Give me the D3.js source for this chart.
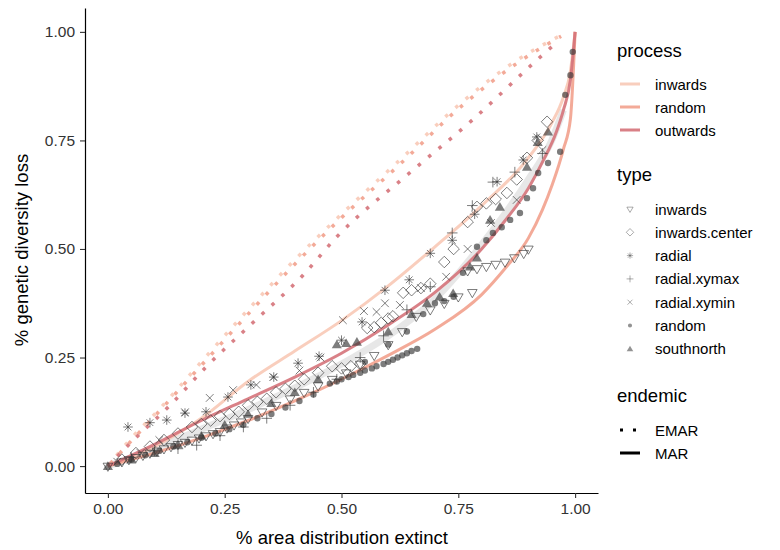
<!DOCTYPE html>
<html>
<head>
<meta charset="utf-8">
<script src="https://cdn.jsdelivr.net/npm/d3@7"></script>
<style>
  body { margin: 0; background: #fff; }
  text { font-family: "Liberation Sans", Arial, sans-serif; }
</style>
</head>
<body>
<div id="chart"></div>
<script>
// process curves (MAR = solid, EMAR = dotted)
const marInwardsX  = [0, 0.1, 0.2, 0.3, 0.4, 0.5, 0.6, 0.7, 0.8, 0.9, 0.95, 0.975, 0.99, 1];
const marInwardsY  = [0, 0.045, 0.11, 0.195, 0.265, 0.335, 0.415, 0.505, 0.6, 0.71, 0.79, 0.85, 0.91, 1];
const marRandomX   = [0, 0.1, 0.2, 0.3, 0.4, 0.5, 0.6, 0.7, 0.8, 0.85, 0.9, 0.93, 0.95, 0.975, 0.99, 1];
const marRandomY   = [0, 0.03, 0.065, 0.105, 0.15, 0.2, 0.255, 0.315, 0.395, 0.455, 0.525, 0.59, 0.645, 0.73, 0.8, 1];
const marOutwardsX = [0, 0.1, 0.2, 0.3, 0.4, 0.5, 0.6, 0.7, 0.8, 0.85, 0.9, 0.93, 0.96, 0.975, 0.99, 1];
const marOutwardsY = [0, 0.05, 0.105, 0.155, 0.205, 0.26, 0.325, 0.4, 0.5, 0.565, 0.64, 0.7, 0.77, 0.82, 0.89, 1];
const smoothX = [0, 0.1, 0.2, 0.3, 0.4, 0.5, 0.6, 0.7, 0.8, 0.9, 0.95, 0.975];
const smoothY = [0, 0.04, 0.085, 0.13, 0.18, 0.235, 0.3, 0.385, 0.51, 0.66, 0.75, 0.82];

const emarInwardsX  = [0, 0.05, 0.105, 0.2, 0.3, 0.4, 0.5, 0.62, 0.76, 0.876, 0.975];
const emarInwardsY  = [0, 0.064, 0.125, 0.24, 0.36, 0.475, 0.58, 0.7, 0.84, 0.935, 0.995];
const emarRandomX   = [0, 0.05, 0.1, 0.2, 0.3, 0.4, 0.5, 0.62, 0.76, 0.876, 0.97];
const emarRandomY   = [0, 0.058, 0.115, 0.232, 0.35, 0.465, 0.572, 0.69, 0.832, 0.928, 0.99];
const emarOutwardsX = [0, 0.05, 0.133, 0.21, 0.31, 0.418, 0.49, 0.64, 0.78, 0.918, 0.96];
const emarOutwardsY = [0, 0.055, 0.14, 0.228, 0.33, 0.44, 0.528, 0.67, 0.797, 0.935, 0.975];

// points per type
const inwardsX = [0, 0.03, 0.045, 0.06, 0.075, 0.09, 0.105, 0.12, 0.135, 0.15, 0.165, 0.18, 0.195, 0.21, 0.225, 0.24, 0.255, 0.27, 0.285, 0.3, 0.33, 0.36, 0.39, 0.42, 0.45, 0.48, 0.51, 0.54, 0.57, 0.6, 0.63, 0.66, 0.69, 0.72, 0.75, 0.78, 0.77, 0.79, 0.81, 0.83, 0.85, 0.87, 0.89, 0.9];
const inwardsY = [0, 0.01, 0.015, 0.02, 0.025, 0.03, 0.035, 0.04, 0.045, 0.05, 0.055, 0.06, 0.065, 0.07, 0.075, 0.08, 0.088, 0.095, 0.102, 0.11, 0.125, 0.14, 0.155, 0.17, 0.185, 0.2, 0.215, 0.235, 0.255, 0.28, 0.31, 0.345, 0.36, 0.375, 0.39, 0.4, 0.45, 0.455, 0.46, 0.465, 0.47, 0.48, 0.49, 0.5];
const centerX = [0.03, 0.06, 0.09, 0.12, 0.15, 0.18, 0.2, 0.22, 0.24, 0.26, 0.28, 0.3, 0.32, 0.34, 0.36, 0.38, 0.4, 0.42, 0.45, 0.48, 0.5, 0.52, 0.54, 0.555, 0.57, 0.585, 0.6, 0.61, 0.632, 0.65, 0.67, 0.69, 0.72, 0.74, 0.77, 0.79, 0.81, 0.83, 0.854, 0.875, 0.897, 0.92, 0.94];
const centerY = [0.015, 0.03, 0.045, 0.06, 0.075, 0.09, 0.097, 0.105, 0.115, 0.12, 0.125, 0.14, 0.148, 0.155, 0.17, 0.178, 0.185, 0.2, 0.215, 0.23, 0.225, 0.23, 0.235, 0.318, 0.32, 0.33, 0.34, 0.345, 0.399, 0.405, 0.41, 0.42, 0.47, 0.5, 0.562, 0.597, 0.605, 0.615, 0.629, 0.66, 0.71, 0.75, 0.793];
const radialX = [0.043, 0.09, 0.126, 0.165, 0.21, 0.257, 0.306, 0.355, 0.407, 0.452, 0.5, 0.544, 0.593, 0.645, 0.69, 0.737, 0.785, 0.833, 0.889, 0.918];
const radialY = [0.09, 0.1, 0.106, 0.122, 0.125, 0.159, 0.187, 0.205, 0.237, 0.253, 0.29, 0.332, 0.405, 0.429, 0.49, 0.52, 0.58, 0.655, 0.705, 0.758];
const xymaxX = [0.05, 0.1, 0.15, 0.19, 0.24, 0.29, 0.34, 0.39, 0.44, 0.49, 0.54, 0.59, 0.64, 0.69, 0.737, 0.78, 0.824, 0.871, 0.93];
const xymaxY = [0.02, 0.035, 0.04, 0.048, 0.07, 0.09, 0.11, 0.14, 0.17, 0.2, 0.25, 0.3, 0.36, 0.413, 0.537, 0.6, 0.654, 0.677, 0.72];
const xyminX = [0.02, 0.07, 0.11, 0.165, 0.218, 0.268, 0.318, 0.354, 0.41, 0.455, 0.503, 0.548, 0.575, 0.593, 0.625, 0.67, 0.724, 0.77, 0.82, 0.875, 0.93];
const xyminY = [0.01, 0.03, 0.06, 0.124, 0.157, 0.175, 0.187, 0.205, 0.22, 0.25, 0.336, 0.357, 0.355, 0.375, 0.371, 0.41, 0.436, 0.5, 0.56, 0.613, 0.728];
const randomX = [0.02, 0.05, 0.08, 0.11, 0.14, 0.17, 0.2, 0.23, 0.26, 0.29, 0.32, 0.35, 0.38, 0.41, 0.44, 0.475, 0.49, 0.5, 0.515, 0.525, 0.54, 0.55, 0.565, 0.575, 0.59, 0.6, 0.61, 0.62, 0.63, 0.64, 0.65, 0.662,
                 0.55, 0.6, 0.64, 0.675, 0.7, 0.72, 0.74, 0.76, 0.79, 0.81, 0.824, 0.843, 0.861, 0.882, 0.897, 0.91, 0.921, 0.942, 0.968, 0.979, 0.99, 0.995];
const randomY = [0.005, 0.015, 0.025, 0.035, 0.045, 0.055, 0.065, 0.075, 0.085, 0.095, 0.11, 0.12, 0.135, 0.15, 0.165, 0.19, 0.195, 0.2, 0.205, 0.21, 0.215, 0.22, 0.225, 0.23, 0.235, 0.24, 0.245, 0.25, 0.255, 0.26, 0.265, 0.27,
                 0.24, 0.28, 0.31, 0.35, 0.375, 0.38, 0.39, 0.445, 0.505, 0.52, 0.537, 0.55, 0.567, 0.583, 0.617, 0.64, 0.675, 0.698, 0.724, 0.855, 0.9, 0.954];
const southX = [0, 0.05, 0.1, 0.15, 0.2, 0.25, 0.3, 0.35, 0.4, 0.45, 0.49, 0.51, 0.533, 0.6, 0.65, 0.683, 0.71, 0.739, 0.775, 0.79, 0.818, 0.839, 0.897, 0.92, 0.942];
const southY = [0, 0.015, 0.03, 0.05, 0.07, 0.095, 0.12, 0.145, 0.17, 0.2, 0.28, 0.283, 0.286, 0.31, 0.35, 0.376, 0.39, 0.398, 0.459, 0.48, 0.567, 0.597, 0.689, 0.746, 0.77];

const xTicks = [0, 0.25, 0.5, 0.75, 1];
const yTicks = [0, 0.25, 0.5, 0.75, 1];

const processNames = ["inwards", "random", "outwards"];
const processColors = ["#f8c9b6", "#f2a18d", "#d5737a"];
const typeNames = ["inwards", "inwards.center", "radial", "radial.xymax", "radial.xymin", "random", "southnorth"];

const width = 780, height = 550;
const svg = d3.select("#chart").append("svg").attr("width", width).attr("height", height);

const x = d3.scaleLinear().domain([-0.049, 1.049]).range([85, 598]);
const y = d3.scaleLinear().domain([-0.062, 1.055]).range([493, 8]);
const colour = d3.scaleOrdinal().domain(processNames).range(processColors);

const zip = (xs, ys) => xs.map((v, i) => [v, ys[i]]);
const line = d3.line().x(d => x(d[0])).y(d => y(d[1])).curve(d3.curveMonotoneX);

// smoothed grey band
svg.append("path")
  .attr("d", line(zip(smoothX, smoothY)))
  .attr("fill", "none").attr("stroke", "#c4c4c4").attr("stroke-width", 7).attr("opacity", 0.4);

const emar = [
  {p: "inwards", d: zip(emarInwardsX, emarInwardsY)},
  {p: "random", d: zip(emarRandomX, emarRandomY)},
  {p: "outwards", d: zip(emarOutwardsX, emarOutwardsY)}
];
const mar = [
  {p: "inwards", d: zip(marInwardsX, marInwardsY)},
  {p: "random", d: zip(marRandomX, marRandomY)},
  {p: "outwards", d: zip(marOutwardsX, marOutwardsY)}
];

svg.selectAll("path.emar").data(emar).join("path")
  .attr("class", "emar")
  .attr("d", d => line(d.d))
  .attr("fill", "none")
  .attr("stroke", d => colour(d.p))
  .attr("stroke-width", 3.5)
  .attr("stroke-dasharray", (d, i) => i == 1 ? "0 3.5 3.5 6.5" : "3.5 10")
  .attr("opacity", 0.9);

svg.selectAll("path.mar").data(mar).join("path")
  .attr("class", "mar")
  .attr("d", d => line(d.d))
  .attr("fill", "none")
  .attr("stroke", d => colour(d.p))
  .attr("stroke-width", 3)
  .attr("opacity", 0.9);

// symbol paths, ggplot style shapes
const s = 4.8;
const shapePath = {
  "inwards": `M${-s},${-s * 0.6}L${s},${-s * 0.6}L0,${s * 1.1}Z`,
  "inwards.center": `M0,${-s * 1.2}L${s * 1.2},0L0,${s * 1.2}L${-s * 1.2},0Z`,
  "radial": `M${-s},0L${s},0M0,${-s}L0,${s}M${-s * 0.7},${-s * 0.7}L${s * 0.7},${s * 0.7}M${-s * 0.7},${s * 0.7}L${s * 0.7},${-s * 0.7}`,
  "radial.xymax": `M${-s * 1.1},0L${s * 1.1},0M0,${-s * 1.1}L0,${s * 1.1}`,
  "radial.xymin": `M${-s * 0.8},${-s * 0.8}L${s * 0.8},${s * 0.8}M${-s * 0.8},${s * 0.8}L${s * 0.8},${-s * 0.8}`,
  "random": d3.symbol(d3.symbolCircle, 32)(),
  "southnorth": `M0,${-s}L${s * 1.05},${s * 0.8}L${-s * 1.05},${s * 0.8}Z`
};
const filled = t => t === "random" || t === "southnorth";

const pts = [
  {t: "inwards", d: zip(inwardsX, inwardsY)},
  {t: "inwards.center", d: zip(centerX, centerY)},
  {t: "radial", d: zip(radialX, radialY)},
  {t: "radial.xymax", d: zip(xymaxX, xymaxY)},
  {t: "radial.xymin", d: zip(xyminX, xyminY)},
  {t: "random", d: zip(randomX, randomY)},
  {t: "southnorth", d: zip(southX, southY)}
];

pts.forEach(g => {
  svg.append("g").selectAll("path").data(g.d).join("path")
    .attr("transform", d => `translate(${x(d[0])},${y(d[1])})`)
    .attr("d", shapePath[g.t])
    .attr("fill", filled(g.t) ? "#383838" : "none")
    .attr("stroke", filled(g.t) ? "none" : "#383838")
    .attr("stroke-width", 1)
    .attr("opacity", 0.65);
});

// axes
const xAxis = svg.append("g").attr("transform", `translate(0,${493})`)
  .call(d3.axisBottom(x).tickValues(xTicks).tickFormat(d3.format(".2f")).tickSize(5).tickSizeOuter(0).tickPadding(5));
const yAxis = svg.append("g").attr("transform", `translate(${85},0)`)
  .call(d3.axisLeft(y).tickValues(yTicks).tickFormat(d3.format(".2f")).tickSize(5).tickSizeOuter(0).tickPadding(5));
[xAxis, yAxis].forEach(a => {
  a.select(".domain").attr("stroke", "#000").attr("stroke-width", 1.2);
  a.selectAll(".tick line").attr("stroke", "#333").attr("stroke-width", 1.1);
  a.selectAll(".tick text").attr("font-size", 15.5).attr("fill", "#333").attr("font-family", "Liberation Sans, Arial, sans-serif");
});

svg.append("text").attr("x", 342).attr("y", 544).attr("text-anchor", "middle")
  .attr("font-size", 18.5).attr("fill", "#000").text("% area distribution extinct");
svg.append("text").attr("transform", "translate(28,250) rotate(-90)").attr("text-anchor", "middle")
  .attr("font-size", 18.5).attr("fill", "#000").text("% genetic diversity loss");

// legends
const lg = svg.append("g").attr("transform", "translate(617,0)");
lg.append("text").attr("x", 0).attr("y", 57).attr("font-size", 18.5).text("process");
processNames.forEach((p, i) => {
  const yy = 84 + i * 23;
  lg.append("line").attr("x1", 3).attr("x2", 23).attr("y1", yy).attr("y2", yy)
    .attr("stroke", colour(p)).attr("stroke-width", 3).attr("opacity", 0.9);
  lg.append("text").attr("x", 38).attr("y", yy + 5.5).attr("font-size", 15).text(p);
});

lg.append("text").attr("x", 0).attr("y", 181).attr("font-size", 18.5).text("type");
typeNames.forEach((t, i) => {
  const yy = 209 + i * 23.3;
  lg.append("path").attr("transform", `translate(13,${yy}) scale(0.65)`)
    .attr("d", shapePath[t])
    .attr("fill", filled(t) ? "#3a3a3a" : "none")
    .attr("stroke", filled(t) ? "none" : "#3a3a3a")
    .attr("stroke-width", 1.2)
    .attr("opacity", 0.55);
  lg.append("text").attr("x", 38).attr("y", yy + 5.5).attr("font-size", 15).text(t);
});

lg.append("text").attr("x", 0).attr("y", 402).attr("font-size", 18.5).text("endemic");
lg.append("line").attr("x1", 3).attr("x2", 23).attr("y1", 430).attr("y2", 430)
  .attr("stroke", "#000").attr("stroke-width", 3).attr("stroke-dasharray", "3 10");
lg.append("text").attr("x", 38).attr("y", 435.5).attr("font-size", 15).text("EMAR");
lg.append("line").attr("x1", 3).attr("x2", 23).attr("y1", 453).attr("y2", 453)
  .attr("stroke", "#000").attr("stroke-width", 3);
lg.append("text").attr("x", 38).attr("y", 458.5).attr("font-size", 15).text("MAR");
</script>
</body>
</html>
